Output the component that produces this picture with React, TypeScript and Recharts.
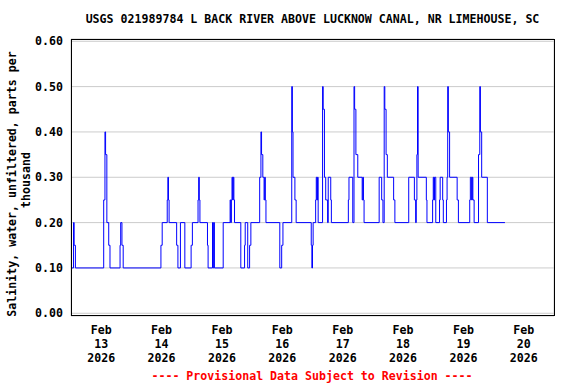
import React from 'react';
import { LineChart, Line, XAxis, YAxis, CartesianGrid } from 'recharts';

// Hours since Feb 13 2026 00:00 at which the (15-minute) reading changes
const hours = [
  0.25, 1.0, 1.25, 1.75, 13.0, 13.5, 13.75, 14.25, 15.0, 15.5, 19.5, 19.75, 20.25, 20.75,
  35.75, 36.25, 38.25, 38.5, 38.75, 39.0, 42.0, 42.5, 43.5, 45.25, 47.75, 48.25, 50.5, 50.75,
  51.0, 51.25, 54.25, 54.5, 56.25, 56.5, 56.75, 57.0,
  60.5, 63.25, 63.5, 63.75, 64.0, 64.25, 64.5, 64.75, 65.0, 67.5, 69.0, 69.25, 70.25, 71.0, 71.5,
  75.0, 75.5, 75.75, 76.25, 76.75, 77.0, 77.25, 77.5, 83.0, 83.75, 84.25, 87.75, 88.0, 88.25,
  89.0, 89.5,
  95.5, 95.75, 96.0, 96.25, 97.25, 97.5, 97.75, 98.0, 98.25, 100.0, 100.25, 100.75, 101.25,
  102.0, 102.25, 103.25, 103.5, 110.25, 110.5, 112.0, 112.5, 112.75, 113.25, 114.0, 115.75,
  116.0, 116.25, 116.5,
  122.5, 123.5, 124.0, 124.5, 124.75, 125.25, 125.75, 128.25, 128.75, 134.25, 136.5, 137.0,
  137.25, 137.5, 137.75, 138.0, 141.25, 141.5, 143.75, 144.0, 144.25, 144.5, 145.0,
  146.5, 146.75, 147.75, 148.0, 149.25, 149.5, 149.75, 150.0, 150.5, 153.5, 154.0, 158.5,
  158.75, 159.25, 159.5, 159.75, 160.25, 162.0, 162.5, 162.75, 163.25, 165.5, 172.5,
];

// Salinity, parts per thousand
const salinity = [
  0.10, 0.20, 0.15, 0.10, 0.25, 0.40, 0.35, 0.20, 0.15, 0.10, 0.15, 0.20, 0.15, 0.10,
  0.15, 0.20, 0.25, 0.30, 0.25, 0.20, 0.15, 0.10, 0.20, 0.10, 0.15, 0.20, 0.25, 0.30,
  0.25, 0.20, 0.15, 0.10, 0.20, 0.10, 0.20, 0.10,
  0.20, 0.25, 0.20, 0.25, 0.30, 0.25, 0.30, 0.25, 0.20, 0.10, 0.15, 0.20, 0.10, 0.15, 0.20,
  0.30, 0.40, 0.35, 0.30, 0.25, 0.30, 0.25, 0.20, 0.10, 0.15, 0.20, 0.50, 0.40, 0.30,
  0.25, 0.20,
  0.15, 0.10, 0.15, 0.20, 0.25, 0.30, 0.25, 0.30, 0.20, 0.50, 0.45, 0.30, 0.25,
  0.20, 0.30, 0.25, 0.20, 0.25, 0.30, 0.20, 0.50, 0.45, 0.35, 0.30, 0.25,
  0.30, 0.25, 0.20,
  0.30, 0.25, 0.20, 0.50, 0.45, 0.35, 0.30, 0.25, 0.20, 0.30, 0.25, 0.20,
  0.25, 0.35, 0.50, 0.30, 0.25, 0.20, 0.25, 0.30, 0.25, 0.30, 0.20,
  0.25, 0.30, 0.25, 0.20, 0.25, 0.30, 0.50, 0.40, 0.30, 0.25, 0.20, 0.25,
  0.30, 0.25, 0.30, 0.25, 0.20, 0.35, 0.50, 0.40, 0.30, 0.20, 0.20,
];

const midnightTicks = [0, 24, 48, 72, 96, 120, 144, 168, 192];
const noonTicks = [12, 36, 60, 84, 108, 132, 156, 180];
const monthLabels = ['Feb', 'Feb', 'Feb', 'Feb', 'Feb', 'Feb', 'Feb', 'Feb'];
const dayLabels = ['13', '14', '15', '16', '17', '18', '19', '20'];
const yearLabels = ['2026', '2026', '2026', '2026', '2026', '2026', '2026', '2026'];
const yTicks = [0, 0.1, 0.2, 0.3, 0.4, 0.5, 0.6];

const titleText = 'USGS 021989784 L BACK RIVER ABOVE LUCKNOW CANAL, NR LIMEHOUSE, SC';
const yLabelLine1 = 'Salinity, water, unfiltered, parts per';
const yLabelLine2 = 'thousand';
const footerText = '---- Provisional Data Subject to Revision ----';

const data = hours.map((t, i) => ({ t, v: salinity[i] }));

const FONT = '"DejaVu Sans Mono", "Liberation Mono", monospace';
const FS = 11.6;

const DateTick = (props: any) => {
  const { x, y, index } = props;
  return (
    <g>
      <text x={x} y={y + 18} textAnchor="middle" fontFamily={FONT} fontWeight="bold" fontSize={FS} fill="#000">{monthLabels[index]}</text>
      <text x={x} y={y + 32} textAnchor="middle" fontFamily={FONT} fontWeight="bold" fontSize={FS} fill="#000">{dayLabels[index]}</text>
      <text x={x} y={y + 46} textAnchor="middle" fontFamily={FONT} fontWeight="bold" fontSize={FS} fill="#000">{yearLabels[index]}</text>
    </g>
  );
};

const YTick = (props: any) => {
  const { x, y, payload } = props;
  return (
    <text x={x} y={y} dy="0.36em" textAnchor="end" fontFamily={FONT} fontWeight="bold" fontSize={FS} fill="#000">
      {Number(payload.value).toFixed(2)}
    </text>
  );
};

export default function App() {
  return (
    <div style={{ position: 'absolute', left: 0, top: 0, width: 576, height: 384, background: '#fff' }}>
      <LineChart width={576} height={384} data={data} margin={{ top: 39, right: 22, left: 0, bottom: 0 }}>
        <CartesianGrid stroke="#cccccc" strokeWidth={1} />
        <XAxis
          dataKey="t"
          type="number"
          domain={[0, 192]}
          ticks={midnightTicks}
          allowDataOverflow
          height={0}
          tick={false}
          axisLine={false}
          tickLine={false}
        />
        <XAxis
          xAxisId="labels"
          dataKey="t"
          type="number"
          domain={[0, 192]}
          ticks={noonTicks}
          interval={0}
          allowDataOverflow
          height={68}
          tickSize={0}
          tickMargin={0}
          axisLine={false}
          tickLine={false}
          tick={<DateTick />}
        />
        <YAxis
          type="number"
          domain={[-0.006, 0.605]}
          ticks={yTicks}
          interval={0}
          allowDataOverflow
          width={71}
          tickSize={0}
          tickMargin={8}
          axisLine={false}
          tickLine={false}
          tick={<YTick />}
        />
        <Line
          type="stepAfter"
          dataKey="v"
          stroke="#0000ff"
          strokeWidth={1}
          dot={false}
          activeDot={false}
          isAnimationActive={false}
        />
      </LineChart>
      <svg width={576} height={384} style={{ position: 'absolute', left: 0, top: 0, pointerEvents: 'none' }}>
        <rect x={71.5} y={39.5} width={483} height={276} fill="none" stroke="#000" strokeWidth={1} />
        <text x={312.5} y={23} textAnchor="middle" fontFamily={FONT} fontWeight="bold" fontSize={FS} fill="#000">{titleText}</text>
        <text transform="translate(16,184) rotate(-90)" textAnchor="middle" fontFamily={FONT} fontWeight="bold" fontSize={FS} fill="#000">{yLabelLine1}</text>
        <text transform="translate(30,180) rotate(-90)" textAnchor="middle" fontFamily={FONT} fontWeight="bold" fontSize={FS} fill="#000">{yLabelLine2}</text>
        <text x={312} y={380} textAnchor="middle" fontFamily={FONT} fontWeight="bold" fontSize={FS} fill="#ff0000">{footerText}</text>
      </svg>
    </div>
  );
}
